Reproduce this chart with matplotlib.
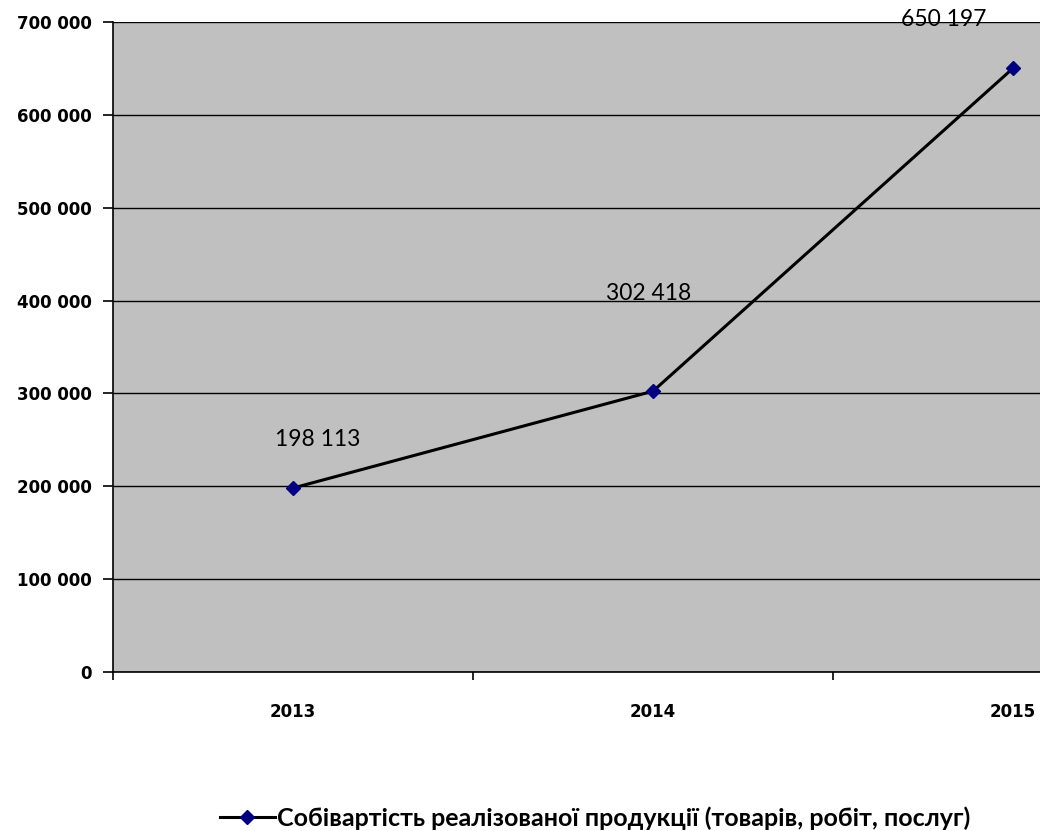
import matplotlib.pyplot as plt
from matplotlib.ticker import FuncFormatter

years = ["2013", "2014", "2015"]
values = [198113, 302418, 650197]
series_name = "Собівартість реалізованої продукції (товарів, робіт, послуг)"
# label offsets in points (Excel placed them a bit oddly)
label_offsets = [(18, 35), (-3, 70), (-50, 35)]

fig = plt.figure(figsize=(10.4, 8.31), dpi=100)
ax = fig.add_axes([113 / 1040, 159 / 831, 1080 / 1040, 650 / 831])
ax.set_facecolor("#c0c0c0")

x = list(range(len(years)))
line, = ax.plot(x, values, color="black", lw=2.2, marker="D", markersize=7,
                markerfacecolor="#000080", markeredgecolor="#000080", zorder=3)

for xi, v, off in zip(x, values, label_offsets):
    ax.annotate(f"{v:,}".replace(",", " "), (xi, v), xytext=off,
                textcoords="offset points", ha="center", va="center",
                fontsize=16.5, family="Lato", clip_on=False)

ax.set_xlim(-0.5, 2.5)
ax.set_ylim(0, 700000)
ax.set_yticks(range(0, 700001, 100000))
ax.yaxis.set_major_formatter(FuncFormatter(lambda v, p: f"{int(v):,}".replace(",", " ")))
ax.grid(axis="y", color="black", lw=1)
ax.set_axisbelow(True)

ax.set_xticks(x)
ax.set_xticklabels(years)
ax.set_xticks([-0.5, 0.5, 1.5], minor=True)
ax.tick_params(axis="x", which="major", length=0, pad=22)
ax.tick_params(axis="x", which="minor", length=6, width=1.2)
ax.tick_params(axis="y", length=7, width=1.2, pad=8)
for lab in ax.get_xticklabels() + ax.get_yticklabels():
    lab.set_fontweight("bold")
    lab.set_fontsize(12)

for s in ["top", "right"]:
    ax.spines[s].set_visible(False)
ax.spines["left"].set_linewidth(1.2)
ax.spines["bottom"].set_linewidth(1.2)

fig.legend([line], [series_name], loc="center", bbox_to_anchor=(595 / 1040, 13 / 831),
           frameon=False, prop={"family": "Lato", "weight": "bold", "size": 18},
           handlelength=2.2, handletextpad=0.1)

fig.savefig("out.png", dpi=100)
